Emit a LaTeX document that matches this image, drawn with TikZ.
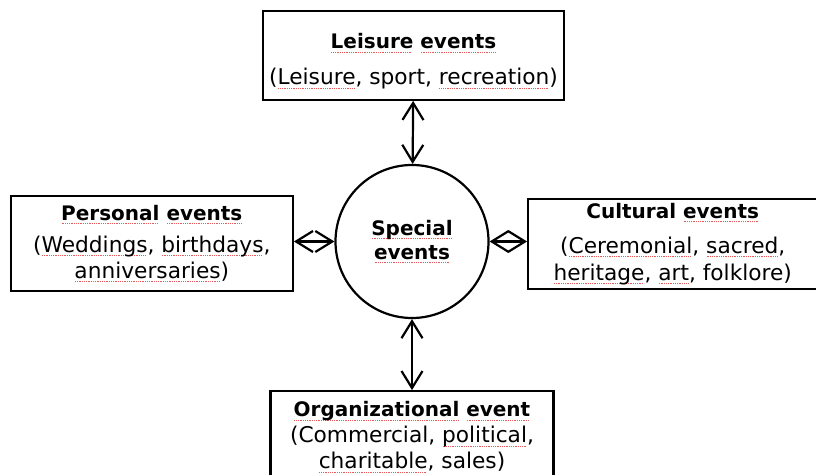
\documentclass[tikz,border=0pt]{standalone}
\usepackage{fontspec}
\setmainfont{DejaVu Sans}
\usepackage{xcolor}
\usepackage{tikz}
\usetikzlibrary{positioning}
\usetikzlibrary{arrows.meta}
\definecolor[named]{spellred}{RGB}{235,90,90}

% red dotted line under a word
\newcommand{\spell}[1]{\setbox0\hbox{#1}\rlap{\color{spellred}\raisebox{-4pt}{\leaders\hbox to 1.8pt{\hss\rule{0.9pt}{0.9pt}\hss}\hskip\wd0\relax}}\box0\relax}
\newcommand{\ttl}[1]{{\fontsize{20}{26}\selectfont\bfseries #1}}

\begin{document}
\begin{tikzpicture}
    [x=1pt,y=1pt,
     evbox/.style={rectangle,draw,line width=2.2pt,inner sep=0pt,align=center,font=\fontsize{21.7}{26}\selectfont},
     link/.style={{Straight Barb[length=17pt,width=21pt,line width=2.2pt]}-{Straight Barb[length=17pt,width=21pt,line width=2.2pt]},line width=2.2pt}]
    \useasboundingbox (0,0) rectangle (816,474);
    \clip (0,0) rectangle (816,474);
    \node [circle,draw,line width=2.2pt,minimum size=153pt,inner sep=0pt,align=center,font=\fontsize{20}{24}\selectfont\bfseries] (Special) at (412,232.5) {\spell{Special}\\\spell{events}};
    \node [evbox,minimum width=301pt,minimum height=89pt,above=63pt of Special,xshift=1.5pt] (Leisure) {\raisebox{-6pt}[\height][\depth]{\begin{tabular}{c}\ttl{\spell{Leisure} \spell{events}}\\[10pt](\spell{Leisure}, sport, \spell{recreation})\end{tabular}}};
    \node [evbox,minimum width=282pt,minimum height=95pt,left=40.5pt of Special,yshift=-2pt] (Personal) {\ttl{\spell{Personal} \spell{events}}\\[6pt](\spell{Weddings}, \spell{birthdays},\\\spell{anniversaries})};
    \node [evbox,minimum width=289pt,minimum height=90pt,right=37.5pt of Special,yshift=-2.5pt] (Cultural) {\ttl{Cultural \spell{events}}\\[9pt](\spell{Ceremonial}, \spell{sacred},\\[1pt]\spell{heritage}, \spell{art}, folklore)};
    \node [evbox,minimum width=283pt,minimum height=92pt,below=71pt of Special] (Organizational) {\ttl{\spell{Organizational} \spell{event}}\\(Commercial, \spell{political},\\\spell{charitable}, sales)};
    \draw[link] (Leisure) -- (Special);
    \draw[link] (Personal.east |- Special) -- (Special);
    \draw[link] (Special) -- (Cultural.west |- Special);
    \draw[link] (Special) -- (Organizational);
\end{tikzpicture}
\end{document}
